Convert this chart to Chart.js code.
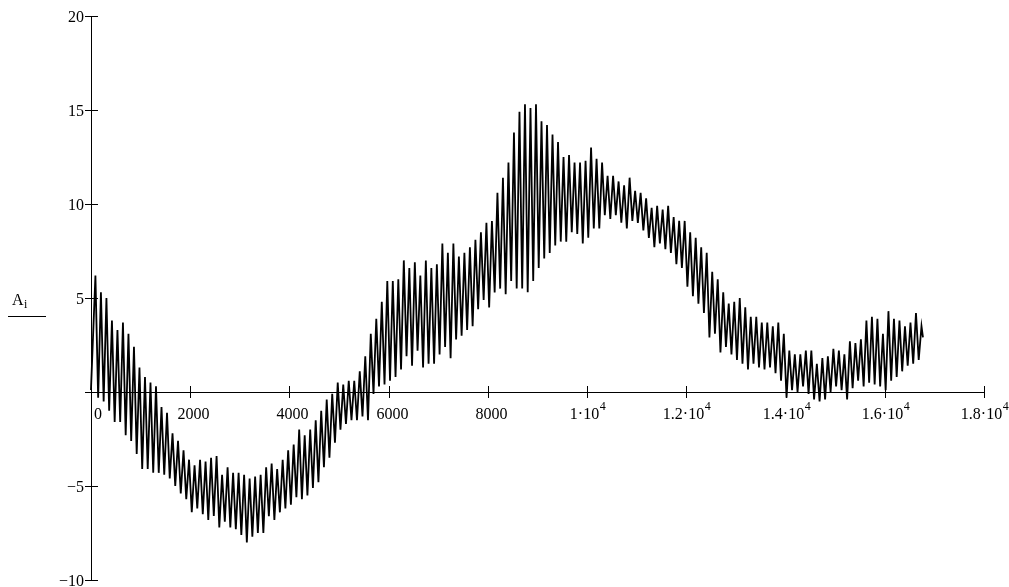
<!DOCTYPE html>
<html>
<head>
<meta charset="utf-8">
<script src="https://cdn.jsdelivr.net/npm/chart.js@4/dist/chart.umd.min.js"></script>
<style>
  html, body { margin: 0; padding: 0; background: #ffffff; }
  #wrap { width: 1009px; height: 587px; position: relative; }
</style>
</head>
<body>
<div id="wrap"><canvas id="c" width="1009" height="587"></canvas></div>
<script>
// ---- data (extremes of each oscillation cycle) ----
const samplePeriod = 111;      // index units per oscillation cycle
const highOffset = 90;         // index of first maximum
const lowOffset = 145;         // index of first minimum
const firstValue = 0.1;        // A at i = 0
const lastValue = 2.9;         // A at the final index
const lastIndex = 16770;

const highs = [
  6.2, 5.3, 5.0, 3.8, 3.3, 3.7, 3.1, 2.4, 1.3, 0.8,
  0.5, 0.3, -0.8, -1.1, -2.2, -2.6, -3.1, -3.6, -3.9, -3.6,
  -3.7, -3.5, -3.4, -4.4, -4.0, -4.3, -4.3, -4.4, -4.6, -4.5,
  -4.4, -4.0, -3.8, -4.1, -3.6, -3.1, -2.8, -2.0, -2.3, -2.0,
  -1.5, -1.0, -0.4, -0.1, 0.5, 0.4, 0.6, 0.6, 1.1, 1.9,
  3.1, 3.9, 4.8, 5.9, 5.9, 6.0, 7.0, 6.6, 6.9, 6.2,
  7.0, 6.6, 6.8, 7.9, 7.4, 7.9, 7.2, 7.4, 7.7, 8.1,
  8.5, 9.0, 9.1, 10.6, 11.4, 12.2, 13.8, 14.9, 15.3, 15.1,
  15.3, 14.4, 14.2, 13.7, 13.3, 12.5, 12.6, 12.2, 12.2, 12.3,
  13.0, 12.4, 12.2, 11.5, 11.5, 11.2, 11.0, 11.4, 10.7, 10.6,
  10.3, 9.8, 9.9, 9.7, 9.9, 9.3, 9.1, 9.1, 8.5, 8.2,
  7.7, 7.4, 6.4, 6.0, 5.3, 4.7, 4.8, 5.0, 4.5, 4.0,
  4.0, 3.7, 3.7, 3.5, 3.7, 3.1, 2.2, 2.0, 2.0, 2.2,
  2.2, 1.5, 1.8, 1.9, 2.3, 2.2, 2.0, 2.7, 2.6, 2.8,
  3.8, 4.0, 3.9, 3.1, 4.3, 3.9, 3.8, 3.5, 3.7, 4.2,
  3.5
];

const lows = [
  -0.3, -0.5, -1.0, -1.6, -1.6, -2.3, -2.6, -3.3, -4.1, -4.1,
  -4.3, -4.3, -4.4, -4.6, -5.0, -5.4, -5.7, -6.4, -6.2, -6.5,
  -6.8, -6.6, -7.2, -6.9, -7.2, -7.3, -7.6, -8.0, -7.7, -7.5,
  -7.5, -6.6, -6.8, -6.4, -6.2, -6.0, -5.6, -5.7, -5.5, -5.1,
  -4.8, -4.0, -3.5, -2.7, -2.0, -1.7, -1.5, -1.5, -1.3, -1.5,
  -0.1, 0.3, 0.4, 0.6, 0.8, 1.2, 1.9, 1.4, 2.2, 1.3,
  1.5, 1.5, 2.0, 2.4, 1.8, 2.8, 3.0, 3.3, 3.5, 4.4,
  4.9, 4.5, 5.3, 5.5, 5.2, 5.9, 5.5, 5.5, 5.3, 5.9,
  6.6, 7.1, 7.4, 7.8, 8.0, 8.0, 8.5, 8.4, 7.9, 8.2,
  8.7, 8.7, 9.4, 9.2, 9.4, 9.0, 8.7, 9.1, 9.0, 8.6,
  8.2, 7.7, 7.9, 7.6, 7.4, 6.8, 6.6, 5.6, 5.1, 4.7,
  4.2, 2.9, 3.1, 2.1, 2.4, 2.0, 1.7, 1.5, 1.2, 1.5,
  1.3, 1.2, 1.3, 1.0, 0.6, -0.3, 0.1, 0.0, 0.3, -0.1,
  -0.4, -0.5, -0.4, 0.0, 0.3, 0.1, -0.4, 0.2, 0.6, 0.3,
  0.5, 0.4, 0.3, 0.1, 0.6, 0.8, 1.1, 1.4, 1.5, 1.7
];

const xTickValues = [0, 2000, 4000, 6000, 8000, 10000, 12000, 14000, 16000, 18000];
const xTickLabels = ['0', '2000', '4000', '6000', '8000', '1\u00B710^4', '1.2\u00B710^4', '1.4\u00B710^4', '1.6\u00B710^4', '1.8\u00B710^4'];
const yTickValues = [-10, -5, 0, 5, 10, 15, 20];
const yTickLabels = ['\u221210', '\u22125', '', '5', '10', '15', '20'];
const yAxisTitle = 'A';
const yAxisTitleSub = 'i';

// ---- build the point list (alternating maxima / minima) ----
const points = [{ x: 0, y: firstValue }];
for (let k = 0; k < highs.length; k++) {
  points.push({ x: highOffset + k * samplePeriod, y: highs[k] });
  if (k < lows.length) points.push({ x: lowOffset + k * samplePeriod, y: lows[k] });
}
points.push({ x: lastIndex, y: lastValue });

const FONT = '"Liberation Serif", "Times New Roman", serif';

const axesPlugin = {
  id: 'mathcadAxes',
  beforeDatasetsDraw(chart) {
    const ctx = chart.ctx;
    const xs = chart.scales.x, ys = chart.scales.y;
    const x0 = xs.getPixelForValue(0);
    const y0 = ys.getPixelForValue(0);
    ctx.save();
    ctx.strokeStyle = '#000';
    ctx.fillStyle = '#000';
    ctx.lineWidth = 1;
    // x axis
    ctx.beginPath();
    ctx.moveTo(xs.left, Math.round(y0) + 0.5);
    ctx.lineTo(xs.right + 1, Math.round(y0) + 0.5);
    ctx.stroke();
    // y axis
    ctx.beginPath();
    ctx.moveTo(Math.round(x0) + 0.5, ys.top);
    ctx.lineTo(Math.round(x0) + 0.5, ys.bottom + 1);
    ctx.stroke();
    // x ticks + labels
    ctx.textBaseline = 'alphabetic';
    xTickValues.forEach((v, i) => {
      const px = Math.round(xs.getPixelForValue(v)) + 0.5;
      if (v !== 0) {
        ctx.beginPath();
        ctx.moveTo(px, Math.round(y0) - 6);
        ctx.lineTo(px, Math.round(y0) + 6);
        ctx.stroke();
      }
      const lab = xTickLabels[i];
      const parts = lab.split('^');
      const base = parts[0];
      const sup = parts[1] || '';
      ctx.font = '16px ' + FONT;
      const wb = ctx.measureText(base).width;
      ctx.font = '12px ' + FONT;
      const ws = sup ? ctx.measureText(sup).width : 0;
      const total = wb + ws;
      const cx = px + (v === 0 ? 6.5 : (sup ? 0 : 3));
      const left = cx - total / 2;
      const baseY = Math.round(y0) + 27;
      ctx.textAlign = 'left';
      ctx.font = '16px ' + FONT;
      ctx.fillText(base, left, baseY);
      if (sup) {
        ctx.font = '12px ' + FONT;
        ctx.fillText(sup, left + wb + 0.5, baseY - 9);
      }
    });
    // y ticks + labels
    ctx.font = '16px ' + FONT;
    ctx.textAlign = 'right';
    ctx.textBaseline = 'middle';
    yTickValues.forEach((v, i) => {
      const py = Math.round(ys.getPixelForValue(v)) + 0.5;
      if (v !== 0) {
        ctx.beginPath();
        ctx.moveTo(Math.round(x0) - 6, py);
        ctx.lineTo(Math.round(x0) + 7, py);
        ctx.stroke();
      }
      if (yTickLabels[i]) ctx.fillText(yTickLabels[i], Math.round(x0) - 7, py + 1);
    });
    // y axis title with trace sample line
    ctx.textAlign = 'left';
    ctx.textBaseline = 'alphabetic';
    ctx.font = '16px ' + FONT;
    ctx.fillText(yAxisTitle, 12, 305);
    const wa = ctx.measureText(yAxisTitle).width;
    ctx.font = '12px ' + FONT;
    ctx.fillText(yAxisTitleSub, 12 + wa + 0.5, 308);
    ctx.beginPath();
    ctx.moveTo(8, 316.5);
    ctx.lineTo(46, 316.5);
    ctx.stroke();
    ctx.restore();
  }
};

new Chart(document.getElementById('c'), {
  type: 'line',
  data: {
    datasets: [{
      data: points,
      borderColor: '#000',
      borderWidth: 1.8,
      pointRadius: 0,
      tension: 0,
      fill: false
    }]
  },
  options: {
    responsive: false,
    animation: false,
    parsing: false,
    normalized: true,
    layout: { padding: { left: 85, right: 25, top: 16, bottom: 7 } },
    plugins: { legend: { display: false }, tooltip: { enabled: false } },
    scales: {
      x: { type: 'linear', min: -120, max: 18000, display: false },
      y: { type: 'linear', min: -10, max: 20, display: false }
    }
  },
  plugins: [axesPlugin]
});
</script>
</body>
</html>
